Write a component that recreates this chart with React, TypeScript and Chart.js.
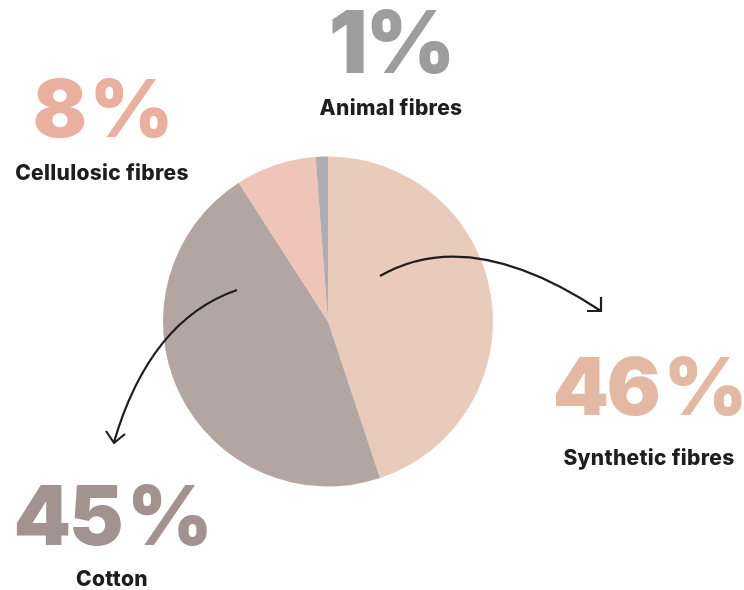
import React, { useEffect, useRef } from "react";
import { Chart, registerables } from "chart.js";

Chart.register(...registerables);

const categories = ["Synthetic fibres", "Cotton", "Cellulosic fibres", "Animal fibres"];
// slice sizes as drawn in the picture (labels are the rounded published figures)
const shares = [44.9, 46, 7.9, 1.2];
const percentLabels = ["46 %", "45 %", "8 %", "1%"];
const sliceColors = ["#e8cbba", "#b3a5a2", "#efc4b9", "#aeaeb2"];
const percentColors = ["#e4b9a3", "#a39390", "#e9b0a0", "#9d9d9d"];

const labelPlugin = {
  id: "fibreLabels",
  afterDraw(chart: any) {
    const ctx = chart.ctx as any;
    ctx.save();
    const spots = [
      { px: 649, py: 415, ly: 465, size: 80 },
      { px: 112, py: 545, ly: 586, size: 82 },
      { px: 102, py: 137, ly: 180, size: 80 },
      { px: 391, py: 73, ly: 115, size: 86 },
    ];
    spots.forEach((s, i) => {
      ctx.textAlign = "center";
      ctx.textBaseline = "alphabetic";
      ctx.fillStyle = percentColors[i];
      ctx.font = `900 ${s.size}px Inter, "Open Sans", sans-serif`;
      ctx.letterSpacing = "-2px";
      ctx.wordSpacing = "-9px";
      ctx.fillText(percentLabels[i], s.px, s.py);
      ctx.letterSpacing = "0.3px";
      ctx.wordSpacing = "0px";
      ctx.fillStyle = "#1f1d1e";
      ctx.font = `800 21px Inter, "Open Sans", sans-serif`;
      ctx.fillText(categories[i], s.px, s.ly);
    });

    ctx.strokeStyle = "#1f1d1e";
    ctx.lineWidth = 2.2;
    ctx.lineCap = "butt";
    ctx.lineJoin = "miter";
    // arrow to synthetic
    ctx.beginPath();
    ctx.moveTo(380, 276);
    ctx.quadraticCurveTo(470, 224, 601, 311);
    ctx.stroke();
    ctx.beginPath();
    ctx.moveTo(587, 311);
    ctx.lineTo(601, 311);
    ctx.lineTo(601, 297);
    ctx.stroke();
    // arrow to cotton
    ctx.beginPath();
    ctx.moveTo(237, 290);
    ctx.quadraticCurveTo(150, 320, 114, 442);
    ctx.stroke();
    ctx.beginPath();
    ctx.moveTo(106, 431);
    ctx.lineTo(114, 443);
    ctx.lineTo(125, 434);
    ctx.stroke();
    ctx.restore();
  },
};

export default function App() {
  const ref = useRef<HTMLCanvasElement | null>(null);
  useEffect(() => {
    document.body.style.margin = "0";
    const chart = new Chart(ref.current!, {
      type: "pie",
      data: {
        labels: categories,
        datasets: [
          {
            data: shares,
            backgroundColor: sliceColors,
            borderWidth: 0,
          },
        ],
      },
      options: {
        animation: false,
        responsive: false,
        layout: { padding: { left: 163, right: 251, top: 156, bottom: 103 } },
        plugins: { legend: { display: false }, tooltip: { enabled: false } },
      },
      plugins: [labelPlugin],
    });
    return () => chart.destroy();
  }, []);
  return (
    <div style={{ width: 744, height: 590, background: "#fff" }}>
      <canvas ref={ref} width={744} height={590} style={{ display: "block" }} />
    </div>
  );
}
